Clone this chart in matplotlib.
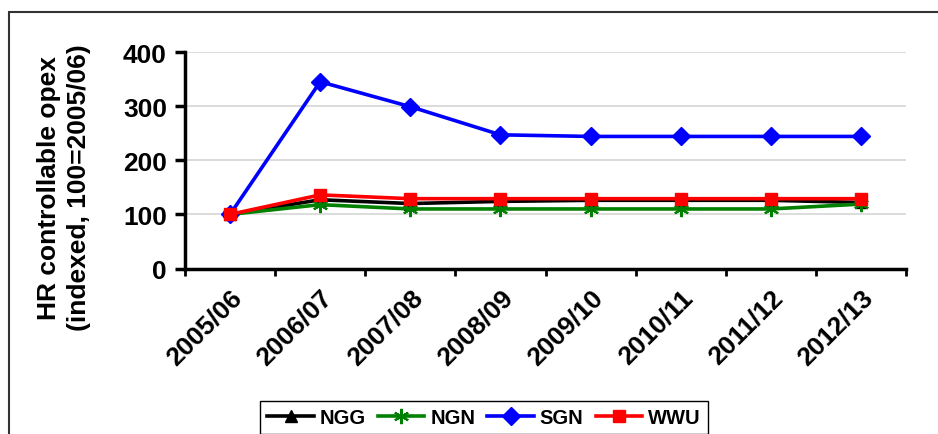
import matplotlib
matplotlib.use("Agg")
import matplotlib.pyplot as plt
from matplotlib.patches import Rectangle

years = ["2005/06", "2006/07", "2007/08", "2008/09",
         "2009/10", "2010/11", "2011/12", "2012/13"]
ngg = [100, 127, 120, 124, 126, 126, 126, 122]
ngn = [100, 118, 110, 110, 110, 110, 110, 119]
sgn = [100, 345, 299, 247, 244, 244, 244, 244]
wwu = [100, 136, 129, 129, 129, 129, 129, 129]

plt.rcParams["font.family"] = ["Liberation Sans", "DejaVu Sans"]
plt.rcParams["font.weight"] = "bold"

fig = plt.figure(figsize=(9.38, 4.35), dpi=100)
ax = fig.add_axes([185 / 938, 1 - 269.5 / 435, (906 - 185) / 938, (269.5 - 53) / 435])

x = list(range(len(years)))
ax.plot(x, ngg, color="black", lw=2.6, marker="^", ms=9, label="NGG")
ax.plot(x, ngn, color="#008000", lw=2.6, marker=(6, 2, 0), ms=11, mew=1.5, label="NGN")
ax.plot(x, sgn, color="#0000ff", lw=2.6, marker="D", ms=9, label="SGN")
ax.plot(x, wwu, color="#ff0000", lw=2.6, marker="s", ms=9, label="WWU")

ax.set_xlim(-0.5, len(years) - 0.5)
ax.set_ylim(0, 400)
ax.set_yticks([0, 100, 200, 300, 400])
# category boundaries carry the tick marks, labels sit at the centres
ax.set_xticks([i - 0.5 for i in range(len(years) + 1)])
ax.set_xticklabels([])
ax.set_xticks(x, minor=True)
ax.set_xticklabels(years, minor=True, rotation=45, ha="right", rotation_mode="anchor",
                   fontsize=19, fontweight="bold")
ax.tick_params(axis="x", which="minor", length=0, pad=12)
ax.tick_params(axis="x", which="major", direction="out", length=5, width=2)
ax.tick_params(axis="y", direction="out", length=7, width=2.5, labelsize=19, pad=6)
for lbl in ax.get_yticklabels():
    lbl.set_fontweight("bold")

ax.grid(axis="y", color="#d9d9d9", lw=1.3)
ax.set_axisbelow(True)
for side in ["top", "right"]:
    ax.spines[side].set_visible(False)
for side in ["left", "bottom"]:
    ax.spines[side].set_linewidth(2.5)

fig.text(64 / 938, 1 - 188 / 435, "HR controllable opex\n(indexed, 100=2005/06)",
         rotation=90, ha="center", va="center", multialignment="center",
         fontsize=19, fontweight="bold", linespacing=1.3)

fig.legend(loc="upper center", bbox_to_anchor=(484 / 938, 1 - 402 / 435), ncol=4,
           frameon=True, fancybox=False, edgecolor="black", fontsize=14.5,
           handlelength=2.3, handletextpad=0.3, columnspacing=0.6,
           borderpad=0.35, borderaxespad=0, framealpha=1)

fig.patches.append(Rectangle((9 / 938, -0.1), 1.0, 1 - 13 / 435 + 0.1,
                             transform=fig.transFigure, fill=False,
                             edgecolor="#333333", lw=1.5))

fig.savefig("out.png", dpi=100)
